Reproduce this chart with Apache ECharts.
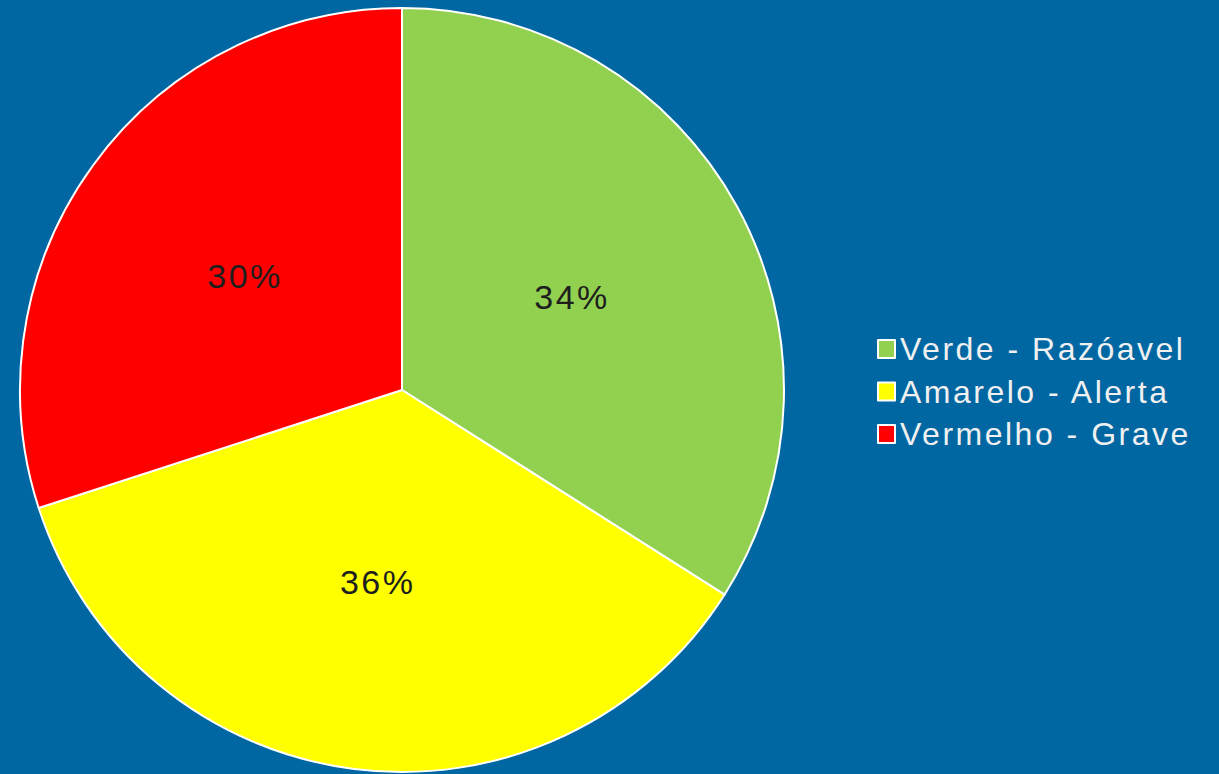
<!DOCTYPE html>
<html>
<head>
<meta charset="utf-8">
<script src="https://cdn.jsdelivr.net/npm/echarts@6/dist/echarts.min.js"></script>
<style>
  html, body { margin: 0; padding: 0; background: #0067a3; }
  #chart { width: 1219px; height: 774px; }
  /* the source rendering has loose letter spacing */
  #chart svg text { letter-spacing: 2.5px; }
</style>
</head>
<body>
<div id="chart"></div>
<script>
const categories = ['Verde - Razóavel', 'Amarelo - Alerta', 'Vermelho - Grave'];
const values = [34, 36, 30];
const palette = ['#92d050', '#ffff00', '#ff0000'];

const chart = echarts.init(document.getElementById('chart'), null, { renderer: 'svg' });

chart.setOption({
  backgroundColor: '#0067a3',
  animation: false,
  color: palette,
  legend: {
    orient: 'vertical',
    left: 872,
    top: 326,
    itemWidth: 17,
    itemHeight: 18,
    itemGap: 6.5,
    icon: 'rect',
    itemStyle: { borderColor: '#ffffff', borderWidth: 2 },
    textStyle: {
      color: '#f0f0f0',
      fontSize: 32,
      lineHeight: 36,
      fontFamily: 'Liberation Sans, Arial, sans-serif',
    },
    data: categories,
  },
  series: [
    {
      type: 'pie',
      center: [402, 390],
      radius: 382,
      startAngle: 90,
      clockwise: true,
      silent: true,
      itemStyle: { borderColor: '#ffffff', borderWidth: 2 },
      label: {
        position: 'inside',
        formatter: '{d}%',
        color: '#1e1e1e',
        fontSize: 34,
        fontFamily: 'Liberation Sans, Arial, sans-serif',
      },
      labelLine: { show: false },
      data: categories.map((name, i) => ({ name, value: values[i] })),
    },
  ],
});
</script>
</body>
</html>
